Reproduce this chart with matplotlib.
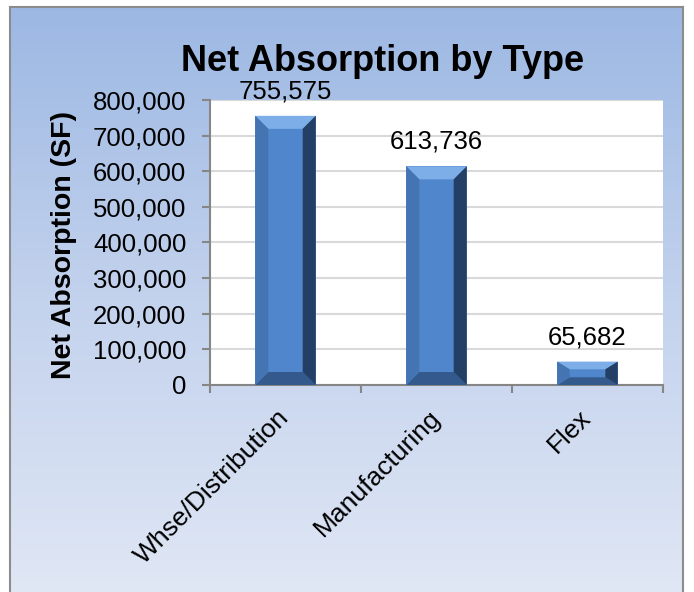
import numpy as np
import matplotlib
matplotlib.use("Agg")
import matplotlib.pyplot as plt
from matplotlib.patches import Polygon
from matplotlib.colors import LinearSegmentedColormap
from matplotlib.ticker import FuncFormatter, MultipleLocator

plt.rcParams['font.family'] = ['Liberation Sans', 'DejaVu Sans']

# Datos
categorias = ['Whse/Distribution', 'Manufacturing', 'Flex']
absorcion = [755575, 613736, 65682]
titulo = 'Net Absorption by Type'
etiqueta_y = 'Net Absorption (SF)'

W, H = 694, 592
fig = plt.figure(figsize=(W / 100, H / 100), dpi=100, facecolor='white')

# Fondo con degradado y marco gris
fondo = fig.add_axes([10 / W, 0, 673 / W, 585 / H], zorder=0)
cmap_fondo = LinearSegmentedColormap.from_list('fondo', ['#9cb8e3', '#c3d2ed', '#e0e7f5'])
fondo.imshow(np.linspace(0, 1, 256).reshape(-1, 1), cmap=cmap_fondo, aspect='auto',
             extent=[0, 1, 0, 1])
fondo.set_xticks([])
fondo.set_yticks([])
for lado in ['left', 'top', 'right']:
    fondo.spines[lado].set_color('#8c8c8c')
    fondo.spines[lado].set_linewidth(1.5)
fondo.spines['bottom'].set_visible(False)

# Área del gráfico
ax = fig.add_axes([210 / W, 207 / H, 453 / W, 285 / H], zorder=1)
ax.set_facecolor('white')
x = np.arange(len(categorias))
ancho = 0.40
barras = ax.bar(x, absorcion, width=ancho, color='#4f86cc', zorder=3, linewidth=0)

ax.set_xlim(-0.5, len(categorias) - 0.5)
ax.set_ylim(0, 800000)
ax.yaxis.set_major_locator(MultipleLocator(100000))
ax.yaxis.set_major_formatter(FuncFormatter(lambda v, p: f'{int(v):,}'))
ax.grid(axis='y', color='#d9d9d9', linewidth=1.5, zorder=0)
ax.set_axisbelow(True)

for lado in ['top', 'right']:
    ax.spines[lado].set_visible(False)
for lado in ['left', 'bottom']:
    ax.spines[lado].set_color('#868686')
    ax.spines[lado].set_linewidth(1.5)

ax.tick_params(axis='y', direction='out', length=6, width=1.5, color='#868686',
               labelsize=18.5, pad=11)
ax.set_xticks(x)
ax.set_xticklabels(categorias, rotation=45, ha='right', va='center',
                   rotation_mode='anchor', fontsize=19)
ax.tick_params(axis='x', which='major', length=0, pad=21)
ax.set_xticks(np.arange(len(categorias) + 1) - 0.5, minor=True)
ax.tick_params(axis='x', which='minor', direction='out', length=6, width=1.5,
               color='#868686')

# Efecto biselado de las barras
bb = ax.get_window_extent()
ux = (ax.get_xlim()[1] - ax.get_xlim()[0]) / bb.width
uy = (ax.get_ylim()[1] - ax.get_ylim()[0]) / bb.height
for b in barras:
    x0 = b.get_x()
    x1 = x0 + b.get_width()
    y0 = 0
    y1 = b.get_height()
    alto_px = y1 / uy
    bpx = min(13, alto_px * 0.33)
    bx = 13 * ux if alto_px > 40 else bpx * ux * 1.6
    by = bpx * uy
    caras = [
        ([(x0, y1), (x1, y1), (x1 - bx, y1 - by), (x0 + bx, y1 - by)], '#7eaee8'),
        ([(x0, y0), (x1, y0), (x1 - bx, y0 + by), (x0 + bx, y0 + by)], '#34598c'),
        ([(x0, y0), (x0 + bx, y0 + by), (x0 + bx, y1 - by), (x0, y1)], '#4574b3'),
        ([(x1, y0), (x1 - bx, y0 + by), (x1 - bx, y1 - by), (x1, y1)], '#233f66'),
    ]
    for pts, col in caras:
        ax.add_patch(Polygon(pts, closed=True, facecolor=col, edgecolor='none', zorder=4))
    ax.annotate(f'{int(y1):,}', (b.get_x() + b.get_width() / 2, y1),
                xytext=(0, 12.5), textcoords='offset points', ha='center',
                va='baseline', fontsize=18.5, color='black', annotation_clip=False, zorder=5)

# Títulos
fig.text(383 / W, 1 - 71 / H, titulo, ha='center', va='baseline', fontsize=26,
         fontweight='bold', zorder=5)
fig.text(64 / W, 1 - 245 / H, etiqueta_y, ha='center', va='center', rotation=90,
         fontsize=20.5, fontweight='bold', zorder=5)

fig.savefig('out.png', dpi=100, facecolor='white')
